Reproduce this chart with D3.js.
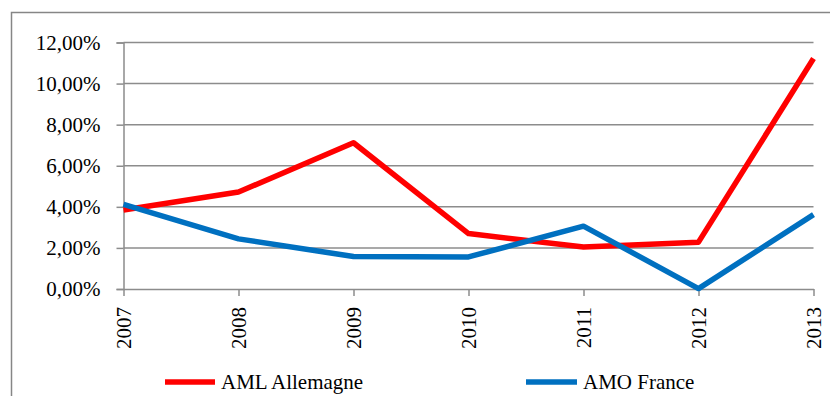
<!DOCTYPE html>
<html>
<head>
<meta charset="utf-8">
<script src="https://cdn.jsdelivr.net/npm/d3@7"></script>
<style>
  html, body { margin: 0; padding: 0; background: #fff; }
  svg { display: block; }
  #chart text { font-family: "Liberation Serif", "Times New Roman", Tinos, serif; }
</style>
</head>
<body>
<svg id="chart" width="830" height="396"></svg>
<script>
// Years on the horizontal axis
const years = ["2007", "2008", "2009", "2010", "2011", "2012", "2013"];
// Yearly rates (percent)
const amlAllemagne = [3.85, 4.72, 7.12, 2.70, 2.04, 2.28, 11.22];
const amoFrance = [4.12, 2.44, 1.58, 1.56, 3.06, 0.02, 3.62];
// Y axis ticks (percent)
const yTicks = [0, 2, 4, 6, 8, 10, 12];

const seriesNames = ["AML Allemagne", "AMO France"];
const seriesColors = ["#FF0000", "#0070C0"];
const seriesValues = [amlAllemagne, amoFrance];

const FONT_SIZE = 21;

const svg = d3.select("#chart");
const margin = { left: 123.5, right: 813.5, top: 42.5, bottom: 289 };

// Outer frame
svg.append("rect")
  .attr("x", 11.5).attr("y", 12.5)
  .attr("width", 830).attr("height", 400)
  .attr("fill", "none").attr("stroke", "#868686").attr("stroke-width", 1.5);

const x = d3.scalePoint().domain(years).range([margin.left, margin.right]);
const y = d3.scaleLinear().domain([0, 12]).range([margin.bottom, margin.top]);

const fmt = v => v.toFixed(2).replace(".", ",") + "%";

// Horizontal gridlines
svg.append("g")
  .selectAll("line")
  .data(yTicks.filter(t => t > 0))
  .join("line")
  .attr("x1", margin.left).attr("x2", margin.right)
  .attr("y1", d => y(d)).attr("y2", d => y(d))
  .attr("stroke", "#8c8c8c").attr("stroke-width", 1.5);

// Y axis
const yAxis = svg.append("g")
  .attr("transform", `translate(${margin.left},0)`)
  .call(d3.axisLeft(y).tickValues(yTicks).tickFormat(fmt).tickSize(7).tickPadding(16))
  .attr("font-family", null).attr("font-size", FONT_SIZE);
yAxis.select(".domain").attr("stroke", "#8c8c8c").attr("stroke-width", 1.5);
yAxis.selectAll(".tick line").attr("stroke", "#8c8c8c").attr("stroke-width", 1.5);
yAxis.selectAll("text").attr("fill", "#000");

// X axis
const xAxis = svg.append("g")
  .attr("transform", `translate(0,${margin.bottom})`)
  .call(d3.axisBottom(x).tickSize(7).tickSizeOuter(0))
  .attr("font-family", null).attr("font-size", FONT_SIZE);
xAxis.select(".domain").attr("stroke", "#8c8c8c").attr("stroke-width", 1.5);
xAxis.selectAll(".tick line").attr("stroke", "#8c8c8c").attr("stroke-width", 1.5);
xAxis.selectAll("text")
  .attr("fill", "#000")
  .attr("transform", "rotate(-90)")
  .attr("text-anchor", "end")
  .attr("dy", "0.35em")
  .attr("x", -18)
  .attr("y", 0);

// Series lines
const line = d3.line()
  .x((d, i) => x(years[i]))
  .y(d => y(d));

seriesValues.forEach((vals, k) => {
  svg.append("path")
    .datum(vals)
    .attr("d", line)
    .attr("fill", "none")
    .attr("stroke", seriesColors[k])
    .attr("stroke-width", 5.5)
    .attr("stroke-linejoin", "round");
});

// Legend
const legendItems = [
  { x1: 165, x2: 215, tx: 221 },
  { x1: 526, x2: 577, tx: 583 }
];
const legendY = 382;
legendItems.forEach((p, k) => {
  svg.append("line")
    .attr("x1", p.x1).attr("x2", p.x2)
    .attr("y1", legendY).attr("y2", legendY)
    .attr("stroke", seriesColors[k]).attr("stroke-width", 5.5);
  svg.append("text")
    .attr("x", p.tx).attr("y", legendY)
    .attr("dy", "0.35em")
    .attr("font-size", FONT_SIZE)
    .attr("fill", "#000")
    .text(seriesNames[k]);
});
</script>
</body>
</html>
